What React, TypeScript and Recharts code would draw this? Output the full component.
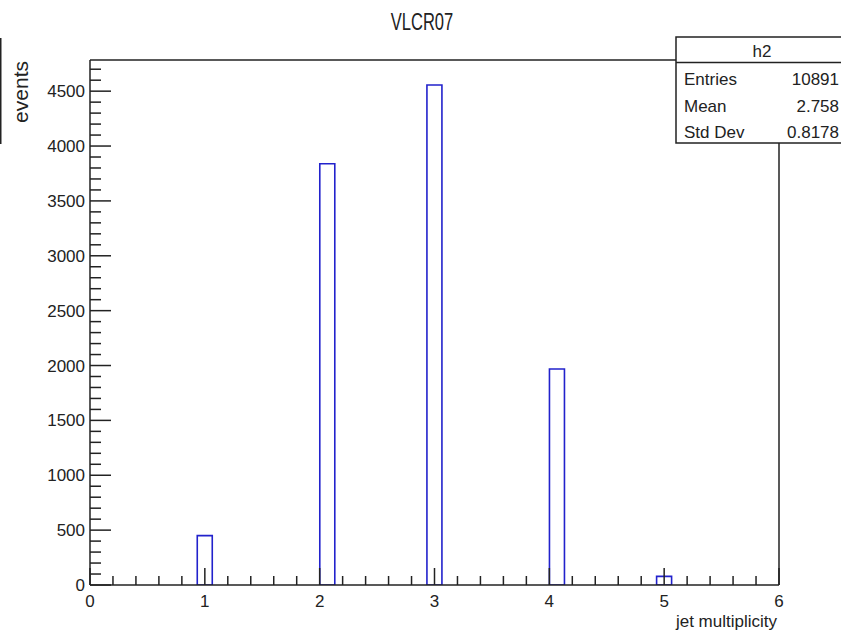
import React from 'react';
import { ComposedChart, Bar, XAxis, YAxis } from 'recharts';

// ---- data ----
const binCenters = [1.0, 2.067, 3.0, 4.067, 5.0];
const counts = [450, 3838, 4556, 1968, 79];

const xMajorTicks = [0, 1, 2, 3, 4, 5, 6];
const yMajorTicks = [0, 500, 1000, 1500, 2000, 2500, 3000, 3500, 4000, 4500];
const xAllTicks = Array.from({ length: 31 }, (_, i) => +(i * 0.2).toFixed(1));
const yAllTicks = Array.from({ length: 48 }, (_, i) => i * 100);

const chartTitle = 'VLCR07';
const xTitle = 'jet multiplicity';
const yTitle = 'events';
const statsName = 'h2';
const statsLabels = ['Entries', 'Mean', 'Std Dev'];
const statsValues = ['10891', '2.758', '0.8178'];

const X_DOMAIN: [number, number] = [0, 6];
const Y_DOMAIN: [number, number] = [0, 4784];

const data = binCenters.map((x, i) => ({ x, count: counts[i] }));

const FONT = "'Liberation Sans', Arial, Helvetica, sans-serif";
const AX = '#222';
const TXT = '#222';
const BLUE = '#2222cc';

const XTick = (props: any) => {
  const { x, y, payload } = props;
  const v = payload.value;
  const major = xMajorTicks.some((t) => Math.abs(t - v) < 1e-6);
  if (!major) {
    return <line x1={x} x2={x} y1={y} y2={y - 9} stroke={AX} strokeWidth={1.5} />;
  }
  return (
    <g>
      <line x1={x} x2={x} y1={y} y2={y - 17} stroke={AX} strokeWidth={1.5} />
      <text x={x} y={y + 22} textAnchor="middle" fontSize={17} fill={TXT} fontFamily={FONT}>
        {Math.round(v)}
      </text>
    </g>
  );
};

const YTick = (props: any) => {
  const { x, y, payload } = props;
  const v = payload.value;
  const major = yMajorTicks.includes(v);
  if (!major) {
    return <line x1={x} x2={x + 11} y1={y} y2={y} stroke={AX} strokeWidth={1.5} />;
  }
  return (
    <g>
      <line x1={x} x2={x + 21} y1={y} y2={y} stroke={AX} strokeWidth={1.5} />
      <text x={x - 5} y={y + 6} textAnchor="end" fontSize={17} fill={TXT} fontFamily={FONT}>
        {v}
      </text>
    </g>
  );
};

export default function App() {
  return (
    <div style={{ position: 'absolute', left: 0, top: 0, width: 841, height: 635, background: '#fff' }}>
      <ComposedChart
        width={841}
        height={635}
        data={data}
        margin={{ top: 60, right: 62, bottom: 20, left: 30 }}
      >
        <Bar
          dataKey="count"
          xAxisId="x"
          yAxisId="y"
          barSize={15}
          fill="none"
          stroke={BLUE}
          strokeWidth={1.6}
          isAnimationActive={false}
        />
        <XAxis
          xAxisId="x"
          dataKey="x"
          type="number"
          domain={X_DOMAIN}
          allowDataOverflow
          ticks={xAllTicks}
          interval={0}
          tickSize={0}
          tickMargin={0}
          axisLine={{ stroke: AX, strokeWidth: 1.5 }}
          tickLine={false}
          tick={XTick}
          height={30}
        />
        <YAxis
          yAxisId="y"
          type="number"
          domain={Y_DOMAIN}
          allowDataOverflow
          ticks={yAllTicks}
          interval={0}
          tickSize={0}
          tickMargin={0}
          axisLine={{ stroke: AX, strokeWidth: 1.5 }}
          tickLine={false}
          tick={YTick}
          width={60}
        />

        {/* frame (top and right sides), partly hidden by the stats box */}
        <line x1={90} x2={779} y1={60} y2={60} stroke={AX} strokeWidth={1.5} />
        <line x1={779} x2={779} y1={60} y2={585} stroke={AX} strokeWidth={1.5} />

        {/* title and axis titles */}
        <text
          x={0}
          y={0}
          transform="translate(422 30) scale(0.72 1)"
          textAnchor="middle"
          fontSize={23}
          fill={TXT}
          fontFamily={FONT}
        >
          {chartTitle}
        </text>
        <text
          x={28}
          y={61}
          transform="rotate(-90 28 61)"
          textAnchor="end"
          fontSize={21}
          fill={TXT}
          fontFamily={FONT}
        >
          {yTitle}
        </text>
        <text x={777} y={627} textAnchor="end" fontSize={17} fill={TXT} fontFamily={FONT}>
          {xTitle}
        </text>
        <line x1={0.75} x2={0.75} y1={38} y2={144} stroke={AX} strokeWidth={1.5} />

        {/* statistics box */}
        <g>
          <rect x={676} y={37} width={170} height={106} fill="#fff" stroke={AX} strokeWidth={1.5} />
          <line x1={676} x2={841} y1={62.5} y2={62.5} stroke={AX} strokeWidth={1.5} />
          <text x={762} y={57} textAnchor="middle" fontSize={17} fill={TXT} fontFamily={FONT}>
            {statsName}
          </text>
          {statsLabels.map((lab, i) => (
            <g key={lab}>
              <text x={684} y={85 + i * 26.5} fontSize={17} fill={TXT} fontFamily={FONT}>
                {lab}
              </text>
              <text x={839} y={85 + i * 26.5} textAnchor="end" fontSize={17} fill={TXT} fontFamily={FONT}>
                {statsValues[i]}
              </text>
            </g>
          ))}
        </g>
      </ComposedChart>
    </div>
  );
}
